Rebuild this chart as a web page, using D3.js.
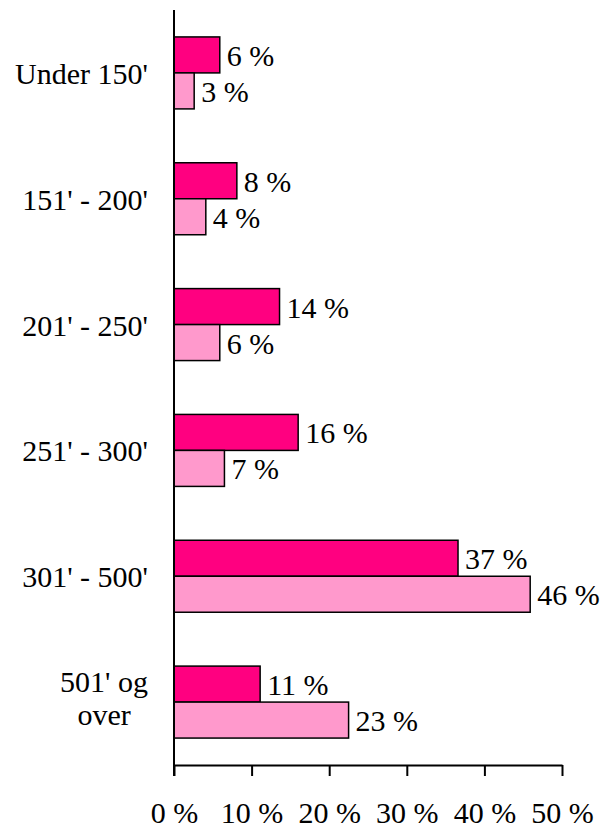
<!DOCTYPE html>
<html>
<head>
<meta charset="utf-8">
<script src="https://cdn.jsdelivr.net/npm/d3@7"></script>
<style>
  body { margin: 0; background: #fff; }
  text { font-family: "Liberation Serif", "Times New Roman", serif; font-size: 30px; fill: #000; }
</style>
</head>
<body>
<div id="chart"></div>
<script>
// categories (top to bottom), lines of each label
const categories = [["Under 150'"], ["151' - 200'"], ["201' - 250'"], ["251' - 300'"], ["301' - 500'"], ["501' og", "over"]];
// two series, values in %
const seriesA = [5.9, 8.1, 13.6, 16.0, 36.6, 11.1];
const seriesB = [2.6, 4.1, 5.9, 6.5, 45.9, 22.5];
const xTicks = [0, 10, 20, 30, 40, 50];

const colors = ["#ff0080", "#ff99cc"];

const W = 602, H = 828;
const margin = { top: 10, left: 174, right: 40, bottom: 63 };
const plotW = 388, plotH = H - margin.top - margin.bottom;

const svg = d3.select("#chart").append("svg")
    .attr("width", W)
    .attr("height", H);

const g = svg.append("g")
    .attr("transform", "translate(" + margin.left + "," + margin.top + ")");

const x = d3.scaleLinear().domain([0, 50]).range([0, plotW]);
const y = d3.scaleBand()
    .domain(d3.range(categories.length))
    .range([0, plotH])
    .paddingInner(0.428)
    .paddingOuter(0.214);
const sub = d3.scaleBand().domain([0, 1]).range([0, y.bandwidth()]);

const rows = categories.map((c, i) => ({ i, vals: [seriesA[i], seriesB[i]] }));

// bars
const grp = g.selectAll("g.row").data(rows).join("g")
    .attr("class", "row")
    .attr("transform", d => "translate(0," + y(d.i) + ")");

grp.selectAll("rect").data(d => d.vals).join("rect")
    .attr("x", 0)
    .attr("y", (v, j) => sub(j))
    .attr("width", v => x(v))
    .attr("height", sub.bandwidth())
    .attr("fill", (v, j) => colors[j])
    .attr("stroke", "#000")
    .attr("stroke-width", 1.5);

// value labels
grp.selectAll("text.val").data(d => d.vals).join("text")
    .attr("class", "val")
    .attr("x", v => x(v) + 7)
    .attr("y", (v, j) => sub(j) + sub.bandwidth() / 2 + 11)
    .text(v => Math.round(v) + " %");

// category labels
const labels = g.selectAll("text.cat").data(categories).join("text")
    .attr("class", "cat")
    .attr("text-anchor", "end")
    .attr("x", -26)
    .attr("y", (c, i) => y(i) + y.bandwidth() / 2 + (c.length > 1 ? -10 : 11));

labels.each(function (c) {
    const t = d3.select(this);
    c.forEach((line, k) => {
        t.append("tspan")
            .attr("x", -26)
            .attr("dy", k === 0 ? 0 : 33)
            .text(line);
    });
    if (c.length > 1) {
        // wrapped text is centered on the widest line
        const spans = t.selectAll("tspan").nodes();
        const maxW = d3.max(spans, s => s.getComputedTextLength());
        t.attr("text-anchor", "middle");
        t.selectAll("tspan").attr("x", -26 - maxW / 2);
    }
});

// x axis
const xAxis = g.append("g")
    .attr("transform", "translate(0," + plotH + ")")
    .call(d3.axisBottom(x).tickValues(xTicks).tickSize(11).tickSizeOuter(0).tickFormat(d => d + " %"));
xAxis.attr("font-size", null).attr("font-family", null);
xAxis.select(".domain").attr("stroke", "#000").attr("stroke-width", 2);
xAxis.selectAll(".tick line").attr("stroke", "#000").attr("stroke-width", 2);
xAxis.selectAll(".tick text")
    .attr("y", 58)
    .attr("dy", 0);

// y axis line
g.append("line")
    .attr("x1", 0).attr("x2", 0)
    .attr("y1", 0).attr("y2", plotH + 11)
    .attr("stroke", "#000")
    .attr("stroke-width", 2);
</script>
</body>
</html>
